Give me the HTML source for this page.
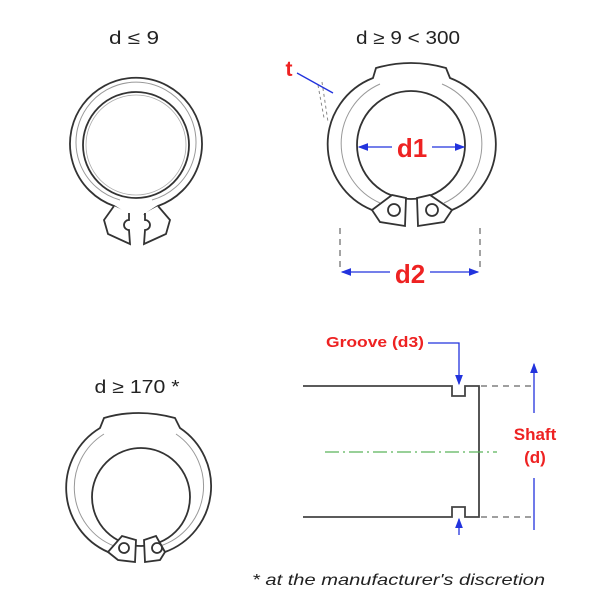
<!DOCTYPE html>
<html><head><style>body{margin:0;background:#fff}svg{display:block}text{font-family:"Liberation Sans",sans-serif}</style></head>
<body>
<svg width="600" height="600" viewBox="0 0 600 600" xmlns="http://www.w3.org/2000/svg">
<defs>
<marker id="ab" markerWidth="8" markerHeight="6" refX="7" refY="3" orient="auto"><path d="M0,0 L8,3 L0,6z" fill="#2233dd"/></marker>
</defs>
<g fill="none" stroke="#333" stroke-width="1.8">
<path d="M128,215 L114,206 A66,66 0 1 1 158,206 L144,215" fill="#fff"/>
<path d="M120,200 A60,60 0 1 1 152,200" stroke="#999" stroke-width="1"/>
<circle cx="136" cy="145" r="53" fill="#fff"/>
<circle cx="136" cy="145" r="50" stroke="#aaa" stroke-width="0.8"/>
<path d="M114,206 L104,220 L108,234 L130,244 L129,230 A5,5 0 0 1 129,220 L129,213" fill="#fff"/>
<path d="M158,206 L170,220 L166,234 L144,244 L145,230 A5,5 0 0 0 145,220 L145,213" fill="#fff"/>
<path d="M390,208 L372,210 A71,71 0 0 1 373,78 L376,68 Q411,58 446,68 L450,78 A71,71 0 0 1 452,210 L432,208" fill="#fff"/>
<path d="M380,203 A65,65 0 0 1 380,84 M442,84 A65,65 0 0 1 444,203" stroke="#999" stroke-width="1"/>
<circle cx="411" cy="145" r="54" fill="#fff"/>
<path d="M372,210 L380,222 L405,226 L406,198 L392,195 Z" fill="#fff"/>
<path d="M452,210 L444,222 L418,226 L417,198 L430,195 Z" fill="#fff"/>
<circle cx="394" cy="210" r="6"/><circle cx="432" cy="210" r="6"/>
<path d="M128,558 L108,552 A70,70 0 0 1 100,428 L104,418 Q138,408 175,418 L180,428 A70,70 0 0 1 165,552 L147,558" fill="#fff"/>
<path d="M114,546 A63,63 0 0 1 104,434 M176,434 A63,63 0 0 1 160,546" stroke="#999" stroke-width="1"/>
<circle cx="141" cy="497" r="49" fill="#fff"/>
<path d="M108,552 L118,560 L135,562 L136,540 L122,536 Z" fill="#fff"/>
<path d="M165,552 L160,560 L145,562 L144,540 L156,536 Z" fill="#fff"/>
<circle cx="124" cy="548" r="5"/><circle cx="157" cy="548" r="5"/>
<path d="M303,386 H452 V396 H465 V386 H479 V517 H465 V507 H452 V517 H303" stroke="#444"/>
</g>
<g stroke="#666" stroke-width="1.2" stroke-dasharray="6,5" fill="none">
<path d="M481,386 H535 M481,517 H535 M340,228 V272 M480,228 V272"/>
</g>
<path d="M322,82 L328,122 M318,85 L324,118" stroke="#888" stroke-dasharray="3,3"/>
<line x1="325" y1="452" x2="497" y2="452" stroke="#5bb55b" stroke-width="1.3" stroke-dasharray="14,4,2,4"/>
<g stroke="#2233dd" stroke-width="1.3" fill="none">
<line x1="392" y1="147" x2="359" y2="147" marker-end="url(#ab)"/>
<line x1="432" y1="147" x2="464" y2="147" marker-end="url(#ab)"/>
<line x1="390" y1="272" x2="342" y2="272" marker-end="url(#ab)"/>
<line x1="430" y1="272" x2="478" y2="272" marker-end="url(#ab)"/>
<line x1="297" y1="73" x2="333" y2="93"/>
<path d="M428,343 H459 V384" marker-end="url(#ab)"/>
<line x1="459" y1="535" x2="459" y2="519" marker-end="url(#ab)"/>
<line x1="534" y1="413" x2="534" y2="364" marker-end="url(#ab)"/>
<line x1="534" y1="478" x2="534" y2="530"/>
</g>
<g fill="#222" font-size="18" text-anchor="middle">
<text x="134" y="44" textLength="50" lengthAdjust="spacingAndGlyphs">d ≤ 9</text>
<text x="408" y="44" textLength="104" lengthAdjust="spacingAndGlyphs">d ≥ 9 &lt; 300</text>
<text x="137" y="393" textLength="85" lengthAdjust="spacingAndGlyphs">d ≥ 170 *</text>
</g>
<g fill="#ee2222" font-weight="bold" text-anchor="middle">
<text x="412" y="157" font-size="26">d1</text>
<text x="410" y="283" font-size="26">d2</text>
<text x="289" y="76" font-size="21">t</text>
<text x="375" y="347" font-size="15" textLength="98" lengthAdjust="spacingAndGlyphs">Groove (d3)</text>
<text x="535" y="440" font-size="17">Shaft</text>
<text x="535" y="463" font-size="17">(d)</text>
</g>
<text x="252" y="585" font-size="16" font-style="italic" fill="#222" textLength="293" lengthAdjust="spacingAndGlyphs">*  at the manufacturer's discretion</text>
</svg>
</body></html>
